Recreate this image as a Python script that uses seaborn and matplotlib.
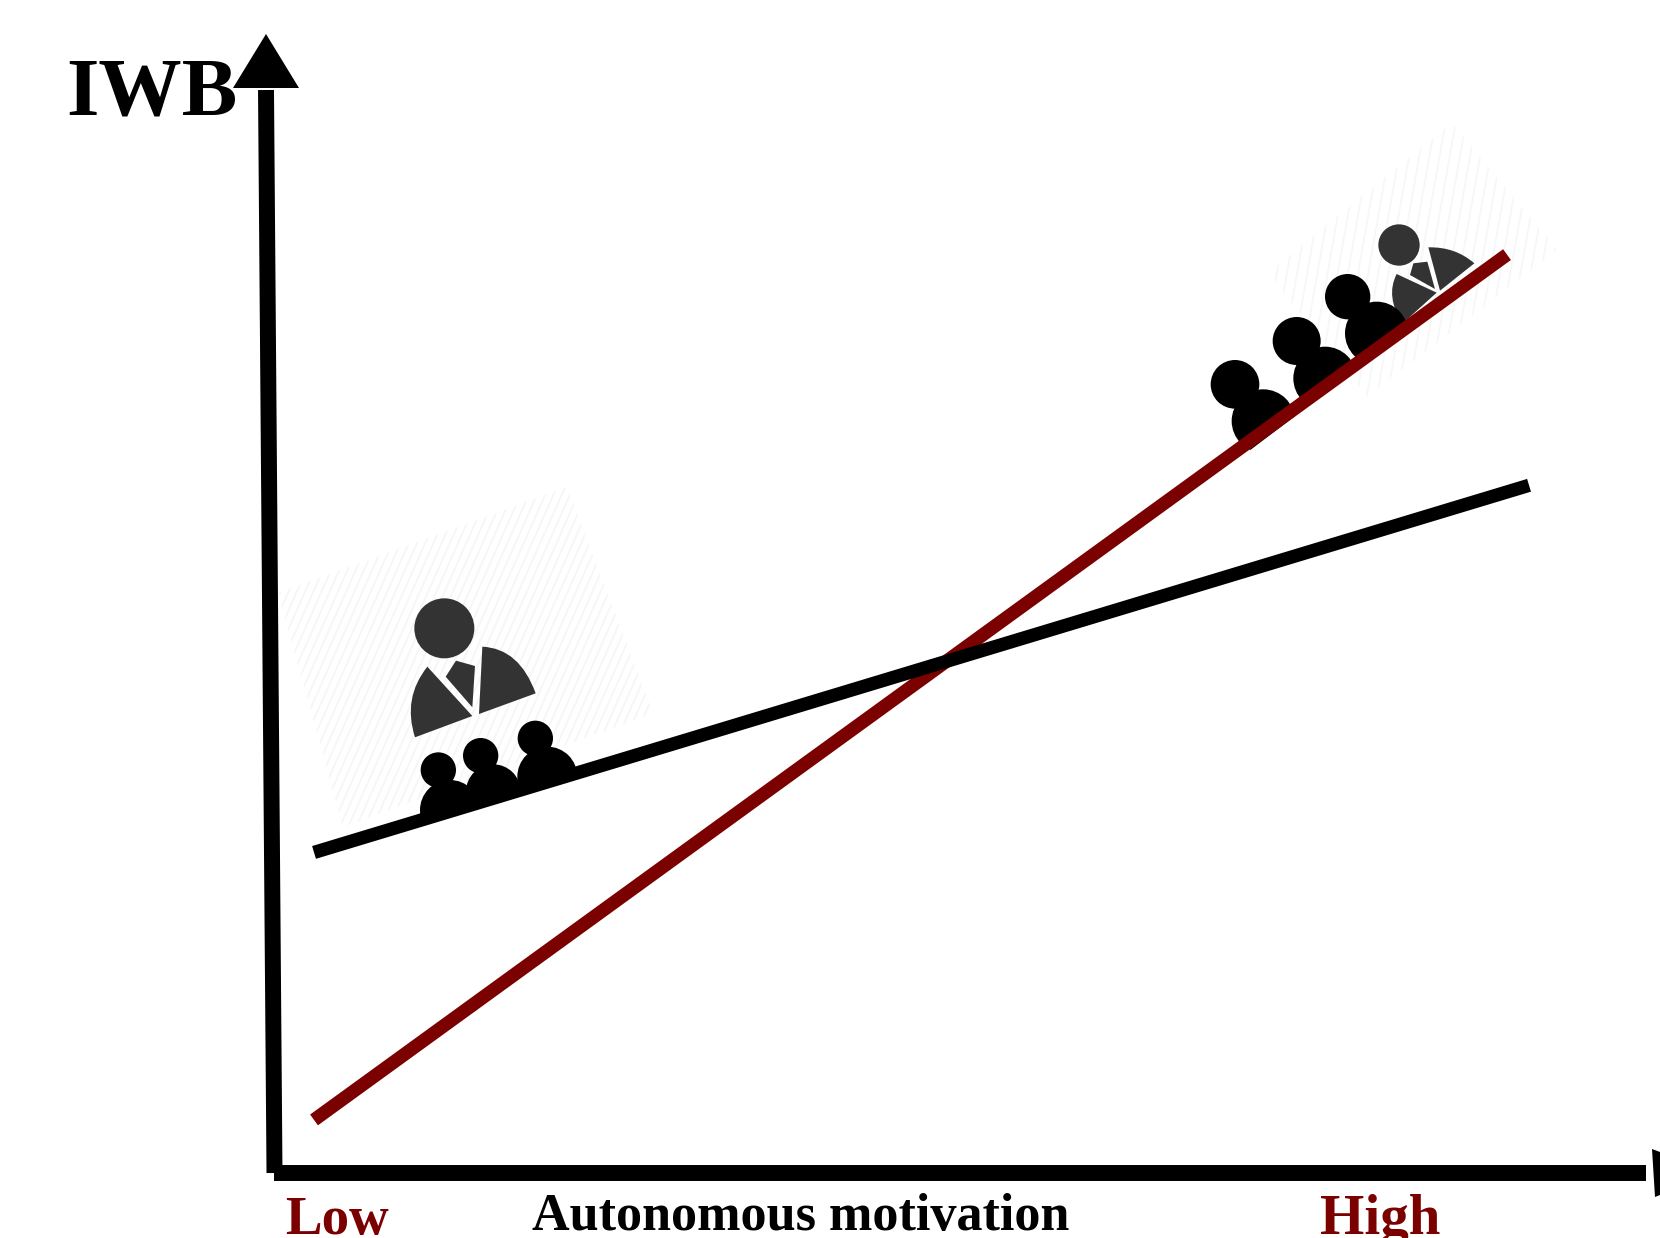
import numpy as np
import pandas as pd
import matplotlib
matplotlib.use("Agg")
import matplotlib.pyplot as plt
import seaborn as sns
from matplotlib.collections import LineCollection
from matplotlib.patches import Circle, Polygon, PathPatch
from matplotlib.path import Path
from matplotlib.transforms import Affine2D

W, H = 1660, 1238

# both axes run 0-100
motivation_black = [3.2, 91.5]
iwb_black = [29.6, 63.5]
motivation_red = [3.2, 89.9]
iwb_red = [4.9, 84.8]

black = "#000000"
dark_red = "#7b0000"
gray = "#333333"

sns.set_theme(style="white")
plt.rcParams["font.family"] = ["Liberation Serif", "DejaVu Serif"]

fig = plt.figure(figsize=(W / 100, H / 100), dpi=100, facecolor="white")
# axes frame is where the two arrows meet
ax = fig.add_axes([270 / W, 1 - 1173 / H, 1376 / W, 1083 / H])
ax.set_xlim(0, 100)
ax.set_ylim(0, 100)
ax.axis("off")

# everything that is not data goes on in figure pixels, y down
px = Affine2D().scale(1 / W, -1 / H).translate(0, 1) + fig.transFigure


def add(patch, z=3):
    patch.set_transform(px)
    patch.set_clip_on(False)
    patch.set_zorder(z)
    ax.add_patch(patch)
    return patch


def stripes(corners, angle, gap, color):
    region = add(Polygon(corners, closed=True, fc="none", ec="none"), 1)
    cx, cy = np.mean(corners, axis=0)
    d = np.array([np.cos(np.radians(angle)), -np.sin(np.radians(angle))])
    n = np.array([-d[1], d[0]])
    segs = []
    for off in np.arange(-400, 400, gap):
        c = np.array([cx, cy]) + n * off
        segs.append([c - d * 500, c + d * 500])
    lc = LineCollection(segs, colors=color, linewidths=1.3, transform=px, zorder=1)
    ax.add_collection(lc, autolim=False)
    lc.set_clip_path(region)


def wedge(p0, p_ctrl, p1, rest, color):
    verts = [p0, p_ctrl, p1] + rest + [p0]
    codes = [Path.MOVETO, Path.CURVE3, Path.CURVE3] + [Path.LINETO] * len(rest) + [Path.CLOSEPOLY]
    return PathPatch(Path(verts, codes), fc=color, ec="none")


def person(zf, head, r, left, right, tie, color=gray, clip=None):
    parts = [
        Circle(zf(head), r / 3, fc=color, ec="none"),
        wedge(zf(left[0]), zf(left[1]), zf(left[2]), [zf(p) for p in left[3:]], color),
        wedge(zf(right[0]), zf(right[1]), zf(right[2]), [zf(p) for p in right[3:]], color),
        Polygon([zf(p) for p in tie], closed=True, fc=color, ec="none"),
    ]
    for p in parts:
        add(p, 3)
        if clip is not None:
            p.set_clip_on(True)
            p.set_clip_path(clip)


def zoom_left(p):
    return (270 + p[0] / 3, 480 + p[1] / 3)


def zoom_right(p):
    return (1180 + p[0] / 3, 120 + p[1] / 3)


# faint stripes behind the icons
stripes([(278, 593), (567, 487), (653, 713), (343, 827)], 66, 7.5, "#f6f6f6")
stripes([(1268, 273), (1452, 123), (1557, 250), (1367, 397)], 80, 10, "#f7f7f7")

# left icons
person(zoom_left, (523, 445), 90,
       [(472, 560), (397, 654), (435, 772), (607, 708)],
       [(637, 500), (748, 505), (797, 640), (627, 702)],
       [(558, 542), (615, 558), (607, 682), (527, 590)])

left_clip = add(Polygon([(380, 835), (380, 700), (600, 700), (600, 765)], closed=True, fc="none", ec="none"), 1)
for zp, r in [((505, 870), 53), ((632, 827), 53), ((796, 775), 53),
              ((540, 990), 90), ((670, 935), 82), ((832, 890), 90)]:
    c = add(Circle(zoom_left(zp), r / 3, fc=black, ec="none"), 3)
    c.set_clip_on(True)
    c.set_clip_path(left_clip)

# right icons
person_clip = add(Polygon([(1220, 465), (1190, 380), (1360, 200), (1510, 200), (1510, 258)], closed=True, fc="none", ec="none"), 1)
body_clip = add(Polygon([(1220, 473), (1190, 380), (1360, 200), (1510, 200), (1510, 258), (1340, 382)], closed=True, fc="none", ec="none"), 1)
person(zoom_right, (657, 375), 62,
       [(650, 462), (615, 530), (668, 610), (770, 518)],
       [(745, 382), (826, 380), (883, 430), (780, 512)],
       [(700, 430), (742, 425), (765, 507), (690, 465)],
       clip=person_clip)
for zp, r in [((165, 793), 73), ((350, 663), 72), ((503, 530), 68),
              ((250, 903), 95), ((435, 775), 95), ((590, 640), 95)]:
    c = add(Circle(zoom_right(zp), r / 3, fc=black, ec="none"), 3)
    c.set_clip_on(True)
    c.set_clip_path(body_clip)

# the two regression lines, black crosses over red
df = pd.DataFrame({
    "motivation": motivation_red + motivation_black,
    "iwb": iwb_red + iwb_black,
    "group": ["high", "high", "low", "low"],
})
sns.lineplot(data=df, x="motivation", y="iwb", hue="group", hue_order=["high", "low"],
             palette={"high": dark_red, "low": black}, linewidth=9.6, legend=False,
             estimator=None, errorbar=None, sort=False, ax=ax, solid_capstyle="butt")
for line in ax.get_lines():
    line.set_zorder(4)

# axis arrows, hand drawn in the original so the y one leans a bit
ax.plot([266, 274.5], [90, 1173], color=black, lw=11.5, solid_capstyle="butt", transform=px, clip_on=False, zorder=5)
ax.plot([274, 1646], [1173, 1173], color=black, lw=11.5, solid_capstyle="butt", transform=px, clip_on=False, zorder=5)
add(Polygon([(266, 34), (233, 88), (299, 88)], closed=True, fc=black, ec="none"), 5)
add(Polygon([(1652, 1149), (1660, 1152), (1660, 1195), (1655, 1197)], closed=True, fc=black, ec="none"), 5)

# labels
ax.text(66, 114, "IWB", transform=px, fontsize=60, fontweight="bold", color=black, va="baseline", ha="left", clip_on=False)
ax.text(285, 1234, "Low", transform=px, fontsize=39.5, fontweight="bold", color=dark_red, va="baseline", ha="left", clip_on=False)
ax.text(1320, 1234, "High", transform=px, fontsize=41, fontweight="bold", color=dark_red, va="baseline", ha="left", clip_on=False)
ax.text(532, 1230, "Autonomous motivation", transform=px, fontsize=37.5, fontweight="bold", color=black, va="baseline", ha="left", clip_on=False)

fig.savefig("out.png", dpi=100, facecolor="white")
